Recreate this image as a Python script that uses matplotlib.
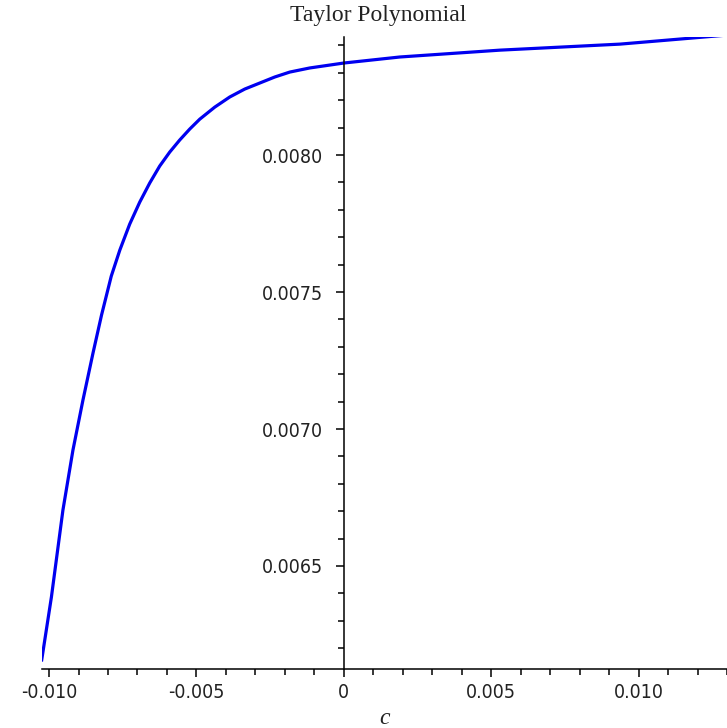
import matplotlib
matplotlib.use("Agg")
import matplotlib.pyplot as plt
from matplotlib.ticker import MultipleLocator, FixedLocator, FixedFormatter

# curve (c, value)
c_vals = [-0.01025, -0.00992, -0.00953, -0.00919, -0.00885, -0.00851, -0.00822,
          -0.00789, -0.00760, -0.007264, -0.006925, -0.006585, -0.006246,
          -0.005906, -0.005567, -0.005227, -0.004888, -0.004379, -0.003870,
          -0.003360, -0.002851, -0.002342, -0.001833, -0.001154, 0.0, 0.0019,
          0.005295, 0.009369, 0.0130]
p_vals = [0.006157, 0.006387, 0.006704, 0.006923, 0.007106, 0.007277, 0.007416,
          0.007558, 0.007653, 0.007748, 0.007828, 0.007898, 0.007960,
          0.008011, 0.008055, 0.008095, 0.008131, 0.008175, 0.008212,
          0.008241, 0.008263, 0.008285, 0.008303, 0.008318, 0.008336, 0.008358,
          0.008383, 0.008405, 0.008438]

x_ticks = [-0.010, -0.005, 0.0, 0.005, 0.010]
x_labels = ["-0.010", "-0.005", "0", "0.005", "0.010"]
y_ticks = [0.0065, 0.0070, 0.0075, 0.0080]
y_labels = ["0.0065", "0.0070", "0.0075", "0.0080"]

fig = plt.figure(figsize=(7.27, 7.28), dpi=100)
ax = fig.add_axes([41.7 / 727, 1 - 669 / 728, 1 - 41.7 / 727, (669 - 37) / 728])

ax.plot(c_vals, p_vals, color="#0000f0", lw=2.3, solid_joinstyle="round")

ax.set_xlim(-0.01025, 0.0130)
ax.set_ylim(0.006124, 0.008431)

ax.spines["left"].set_position(("data", 0))
ax.spines["top"].set_visible(False)
ax.spines["right"].set_visible(False)
for s in ("left", "bottom"):
    ax.spines[s].set_linewidth(1.1)

ax.xaxis.set_major_locator(FixedLocator(x_ticks))
ax.xaxis.set_major_formatter(FixedFormatter(x_labels))
ax.xaxis.set_minor_locator(MultipleLocator(0.001))
ax.yaxis.set_major_locator(FixedLocator(y_ticks))
ax.yaxis.set_major_formatter(FixedFormatter(y_labels))
ax.yaxis.set_minor_locator(MultipleLocator(0.0001))

ax.tick_params(axis="x", which="major", length=6, width=1.1, pad=4, labelsize=14)
ax.tick_params(axis="x", which="minor", length=4, width=1.1)
ax.tick_params(axis="y", which="major", length=6, width=1.1, pad=9, labelsize=14)
ax.tick_params(axis="y", which="minor", length=4, width=1.1)
for lab in ax.get_xticklabels() + ax.get_yticklabels():
    lab.set_fontstretch("condensed")
    lab.set_color("#222222")

fig.text(378 / 727, 1 - 16 / 728, "Taylor Polynomial", ha="center", va="center",
         family="Liberation Serif", fontsize=17, color="#222222")
fig.text(385 / 727, 1 - 718 / 728, "c", ha="center", va="center",
         family="Liberation Serif", style="italic", fontsize=17, color="#222222")

fig.savefig("out.png", dpi=100, facecolor="white")
